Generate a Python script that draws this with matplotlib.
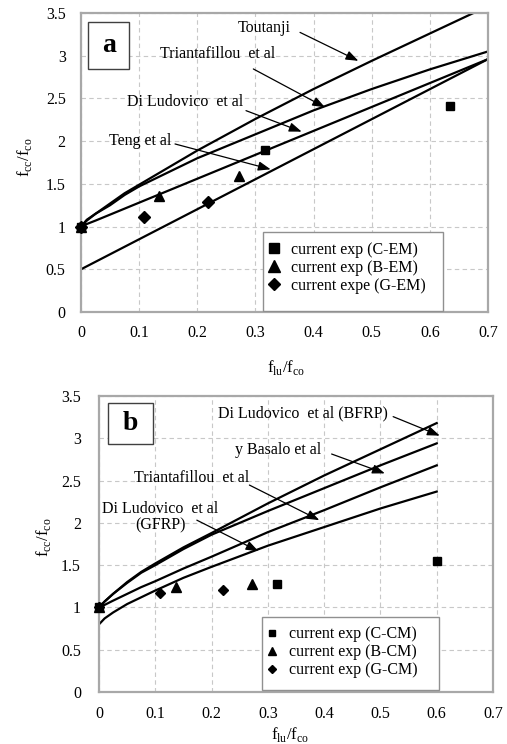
import matplotlib
matplotlib.use("Agg")
import matplotlib.pyplot as plt
from matplotlib.patches import Rectangle

plt.rcParams['font.family'] = ['Liberation Serif', 'DejaVu Serif']
plt.rcParams['mathtext.fontset'] = 'custom'
plt.rcParams['mathtext.rm'] = 'Liberation Serif'

# ---------------- data: panel a ----------------
xa_curve = [0, 0.01, 0.025, 0.05, 0.075, 0.1, 0.2, 0.3, 0.4, 0.5, 0.6, 0.7]
toutanji_a = [1, 1.07, 1.15, 1.27, 1.39, 1.49, 1.89, 2.26, 2.61, 2.94, 3.26, 3.58]
triantafillou_a = [1, 1.08, 1.15, 1.25, 1.37, 1.47, 1.80, 2.08, 2.36, 2.61, 2.84, 3.05]
diludovico_a = [1, 1.03, 1.07, 1.14, 1.21, 1.28, 1.56, 1.84, 2.12, 2.40, 2.68, 2.96]
teng_x = [0, 0.7]
teng_a = [0.5, 2.96]

cem_x = [0, 0.317, 0.634]
cem_y = [1, 1.90, 2.415]
bem_x = [0, 0.135, 0.271]
bem_y = [1, 1.354, 1.588]
gem_x = [0, 0.109, 0.218]
gem_y = [1, 1.112, 1.288]

# ---------------- data: panel b ----------------
xb_curve = [0, 0.01, 0.025, 0.05, 0.075, 0.1, 0.15, 0.2, 0.3, 0.4, 0.5, 0.6]
dl_bfrp_b = [1, 1.07, 1.16, 1.30, 1.42, 1.52, 1.71, 1.88, 2.23, 2.56, 2.87, 3.18]
basalo_b = [1, 1.07, 1.16, 1.29, 1.41, 1.50, 1.69, 1.86, 2.14, 2.41, 2.68, 2.94]
trian_b = [1, 1.03, 1.08, 1.16, 1.24, 1.31, 1.46, 1.60, 1.89, 2.15, 2.42, 2.68]
dl_gfrp_b = [0.80, 0.87, 0.94, 1.04, 1.12, 1.20, 1.35, 1.48, 1.73, 1.95, 2.17, 2.37]

ccm_x = [0, 0.317, 0.601]
ccm_y = [1, 1.282, 1.547]
bcm_x = [0, 0.137, 0.2725]
bcm_y = [1, 1.243, 1.274]
gcm_x = [0, 0.109, 0.22]
gcm_y = [1, 1.176, 1.211]

xticks = [0, 0.1, 0.2, 0.3, 0.4, 0.5, 0.6, 0.7]
xtick_labels = ['0', '0.1', '0.2', '0.3', '0.4', '0.5', '0.6', '0.7']
yticks = [0, 0.5, 1, 1.5, 2, 2.5, 3, 3.5]
ytick_labels = ['0', '0.5', '1', '1.5', '2', '2.5', '3', '3.5']

# annotations: (text, text_xy, arrow_start, arrow_tip)
ann_a = [
    ("Toutanji", (0.3145, 3.33), (0.3767, 3.273), (0.477, 2.94)),
    ("Triantafillou  et al", (0.2345, 3.016), (0.2964, 2.845), (0.4197, 2.396)),
    ("Di Ludovico  et al", (0.1795, 2.462), (0.2838, 2.357), (0.3795, 2.111)),
    ("Teng et al", (0.102, 2.005), (0.1617, 1.967), (0.3262, 1.670)),
]
ann_b = [
    ("Di Ludovico  et al (BFRP)", (0.3618, 3.295), (0.5226, 3.256), (0.6054, 3.031)),
    ("y Basalo et al", (0.319, 2.861), (0.4133, 2.814), (0.5078, 2.585)),
    ("Triantafillou  et al", (0.165, 2.534), (0.2672, 2.447), (0.3914, 2.032)),
    ("Di Ludovico  et al\n(GFRP)", (0.1088, 2.066), (0.1738, 2.032), (0.2832, 1.665)),
]

W, H = 507, 744
fig = plt.figure(figsize=(W / 100, H / 100), dpi=100)

def px_axes(l, t, r, b):
    return fig.add_axes([l / W, 1 - b / H, (r - l) / W, (b - t) / H])

axa = px_axes(81, 13, 488, 312)
axb = px_axes(99, 396, 493, 692)

ylabel = r"f$_{\mathregular{cc}}$/f$_{\mathregular{co}}$"
xlabel = r"f$_{\mathregular{lu}}$/f$_{\mathregular{co}}$"

def style(ax, ypad, xpad):
    ax.set_xlim(0, 0.7)
    ax.set_ylim(0, 3.5)
    ax.set_xticks(xticks)
    ax.set_xticklabels(xtick_labels)
    ax.set_yticks(yticks)
    ax.set_yticklabels(ytick_labels)
    ax.tick_params(length=0, labelsize=11.5)
    ax.tick_params(axis='y', pad=ypad)
    ax.tick_params(axis='x', pad=xpad)
    ax.grid(True, color='#c8c8c8', linestyle=(0, (4, 3)), linewidth=0.8)
    ax.set_axisbelow(True)
    for s in ax.spines.values():
        s.set_color('#a8a8a8')
        s.set_linewidth(1.6)

style(axa, 11, 9)
style(axb, 13, 10)

lw = 1.6
for ys in (toutanji_a, triantafillou_a, diludovico_a):
    axa.plot(xa_curve, ys, color='black', lw=lw, solid_joinstyle='round')
axa.plot(teng_x, teng_a, color='black', lw=lw)

for ys in (dl_bfrp_b, basalo_b, trian_b, dl_gfrp_b):
    axb.plot(xb_curve, ys, color='black', lw=lw, solid_joinstyle='round')

ha = []
ha.append(axa.plot(cem_x, cem_y, 's', color='black', ms=6.3, clip_on=False, zorder=5)[0])
ha.append(axa.plot(bem_x, bem_y, '^', color='black', ms=7.5, clip_on=False, zorder=5)[0])
ha.append(axa.plot(gem_x, gem_y, 'D', color='black', ms=5.8, clip_on=False, zorder=5)[0])

hb = []
hb.append(axb.plot(ccm_x, ccm_y, 's', color='black', ms=5.8, clip_on=False, zorder=5)[0])
hb.append(axb.plot(bcm_x, bcm_y, '^', color='black', ms=7.2, clip_on=False, zorder=5)[0])
hb.append(axb.plot(gcm_x, gcm_y, 'D', color='black', ms=5.2, clip_on=False, zorder=5)[0])

arrowprops = dict(arrowstyle='-|>,head_length=0.75,head_width=0.28', color='black',
                  lw=0.9, shrinkA=0, shrinkB=0, mutation_scale=10)
for ax, anns in ((axa, ann_a), (axb, ann_b)):
    for txt, txy, st, tip in anns:
        ax.text(txy[0], txy[1], txt, ha='center', va='center', fontsize=11.5,
                linespacing=1.05, zorder=6)
        ax.annotate('', xy=tip, xytext=st, arrowprops=arrowprops, zorder=6)

# panel letters
for ax, letter, box in ((axa, 'a', (0.018, 0.812, 0.101, 0.159)),
                        (axb, 'b', (0.022, 0.838, 0.116, 0.139))):
    ax.add_patch(Rectangle((box[0], box[1]), box[2], box[3], transform=ax.transAxes,
                           facecolor='white', edgecolor='#404040', lw=1.0, zorder=6))
    ax.text(box[0] + box[2] / 2, box[1] + box[3] / 2, letter, transform=ax.transAxes,
            ha='center', va='center', fontsize=20, fontweight='bold', zorder=7)

# legends
axa.add_patch(Rectangle((0.447, 0.003), 0.442, 0.265, transform=axa.transAxes,
                        facecolor='white', edgecolor='#909090', lw=1.0, zorder=7))
lega = axa.legend(ha, ['current exp (C-EM)', 'current exp (B-EM)', 'current expe (G-EM)'],
                  loc='upper left', bbox_to_anchor=(0.455, 0.235), frameon=False,
                  fontsize=11.5, handlelength=1.0, handletextpad=0.55, borderpad=0,
                  labelspacing=0.12, borderaxespad=0, markerscale=1.1)
lega.set_zorder(8)

axb.add_patch(Rectangle((0.4145, 0.007), 0.4485, 0.245, transform=axb.transAxes,
                        facecolor='white', edgecolor='#909090', lw=1.0, zorder=7))
legb = axb.legend(hb, ['current exp (C-CM)', 'current exp (B-CM)', 'current exp (G-CM)'],
                  loc='upper left', bbox_to_anchor=(0.42, 0.222), frameon=False,
                  fontsize=11.5, handlelength=1.0, handletextpad=0.55, borderpad=0,
                  labelspacing=0.12, borderaxespad=0, markerscale=0.85)
legb.set_zorder(8)

# axis labels
axa.text(-0.138, 0.518, ylabel, transform=axa.transAxes, rotation=90,
         ha='center', va='center', fontsize=12)
axa.text(0.505, -0.184, xlabel, transform=axa.transAxes, ha='center', va='center', fontsize=12)
axb.text(-0.142, 0.524, ylabel, transform=axb.transAxes, rotation=90,
         ha='center', va='center', fontsize=12)
axb.text(0.485, -0.145, xlabel, transform=axb.transAxes, ha='center', va='center', fontsize=12)

fig.savefig('out.png', dpi=100)
